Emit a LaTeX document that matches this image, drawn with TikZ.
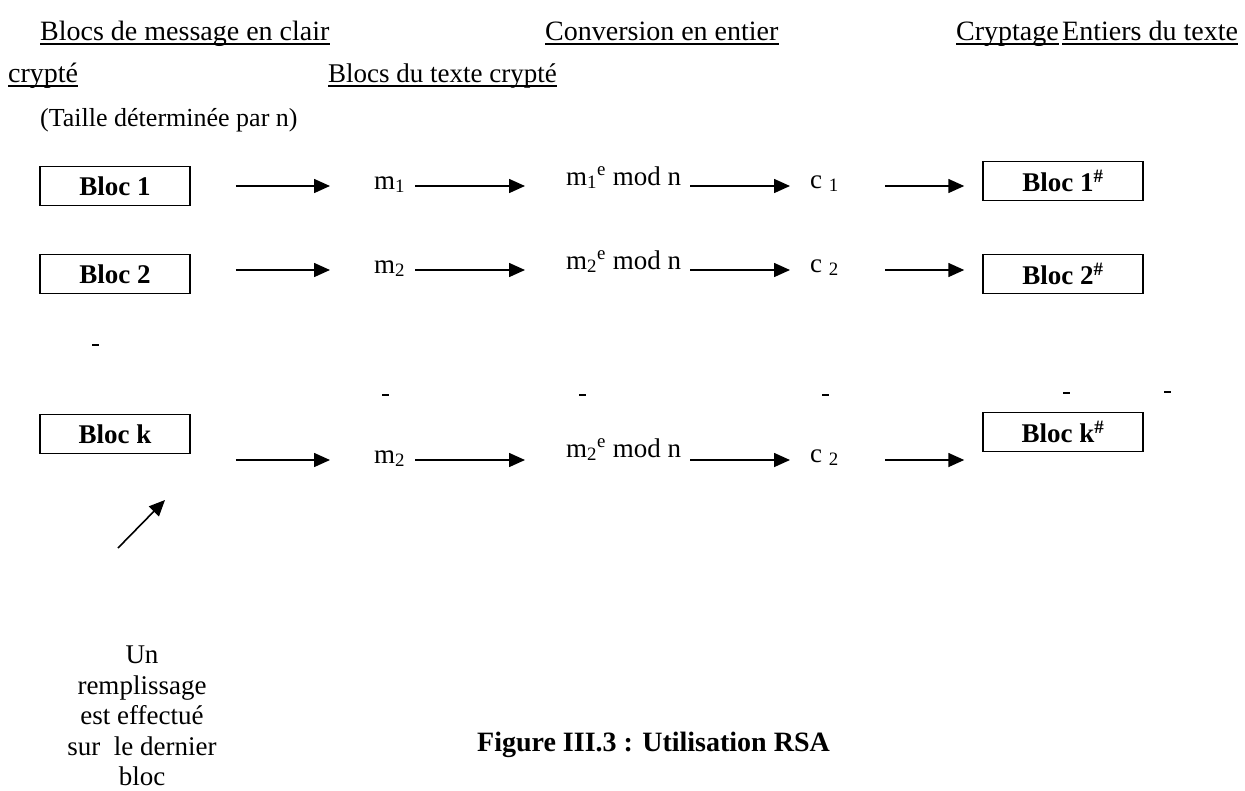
\documentclass[tikz,border=0pt]{standalone}
\usepackage{fontspec}
\setmainfont{Liberation Serif}
\usetikzlibrary{arrows.meta}

\tikzset{
  texte/.style={inner sep=0pt, anchor=base west, font=\fontsize{27}{31}\selectfont},
  entete/.style={texte, font=\fontsize{28}{32}\selectfont},
  bloc/.style={draw, line width=1.5pt, minimum width=150pt, minimum height=39pt,
    inner sep=0pt, font=\fontsize{27}{31}\selectfont\bfseries},
  fleche/.style={line width=1.6pt, -{Triangle[length=16pt,width=14pt]}},
  flecheA/.style={fleche, shorten <=45pt, shorten >=44pt},
  flecheB/.style={fleche, shorten <=41pt, shorten >=41pt},
  flecheC/.style={fleche, shorten <=124pt, shorten >=20pt},
  flecheD/.style={fleche, shorten <=75pt, shorten >=18pt},
  souligne/.style={line width=1.3pt},
  tiret/.style={line width=2.5pt},
}

\begin{document}
\begin{tikzpicture}[x=1pt,y=-1pt]
\useasboundingbox (0,0) rectangle (1245,790);

% titres
\node[entete] (t1) at (40,40) {Blocs de message en clair};
\node[entete] (t2) at (545,40) {Conversion en entier};
\node[entete] (t3) at (956,40) {Cryptage};
\node[entete] (t4) at (1062,40) {Entiers du texte};
\node[entete] (t5) at (8,82) {crypté};
\node[texte] (t6) at (328,82) {Blocs du texte crypté};
\foreach \t in {t1,t2,t3,t4,t5,t6}
  \draw[souligne] ([yshift=-4pt]\t.base west) -- ([yshift=-4pt]\t.base east);

\node[texte, font=\fontsize{26}{30}\selectfont] (taille) at (40,126) {(Taille déterminée par n)};

% ligne 1
\coordinate (y1) at (0,186);
\node[bloc] (b1) at (115,186) {Bloc 1};
\node[texte] (m1) at (374,189) {m\textsubscript{1}};
\node[texte] (e1) at (566,185) {m\textsubscript{1}\textsuperscript{e} mod n};
\node[texte] (c1) at (810,188) {c \textsubscript{1}};
\node[bloc, minimum width=160pt] (d1) at (1063,181) {Bloc 1\textsuperscript{\#}};
  \draw[flecheA] (b1.east |- y1) -- (m1.west |- y1);
  \draw[flecheB] (m1.west |- y1) -- (e1.west |- y1);
  \draw[flecheC] (e1.west |- y1) -- (c1.west |- y1);
  \draw[flecheD] (c1.west |- y1) -- (d1.west |- y1);

% ligne 2
\coordinate (y2) at (0,270);
\node[bloc] (b2) at (115,274) {Bloc 2};
\node[texte] (m2) at (374,273) {m\textsubscript{2}};
\node[texte] (e2) at (566,269) {m\textsubscript{2}\textsuperscript{e} mod n};
\node[texte] (c2) at (810,272) {c \textsubscript{2}};
\node[bloc, minimum width=160pt] (d2) at (1063,274) {Bloc 2\textsuperscript{\#}};
  \draw[flecheA] (b2.east |- y2) -- (m2.west |- y2);
  \draw[flecheB] (m2.west |- y2) -- (e2.west |- y2);
  \draw[flecheC] (e2.west |- y2) -- (c2.west |- y2);
  \draw[flecheD] (c2.west |- y2) -- (d2.west |- y2);

% tirets
\draw[tiret] (92,345) -- (99,345);
\draw[tiret] (382,395) -- (389,395);
\draw[tiret] (579,395) -- (586,395);
\draw[tiret] (822,395) -- (829,395);
\draw[tiret] (1063,393) -- (1070,393);
\draw[tiret] (1164,392) -- (1171,392);

% ligne k
\coordinate (yk) at (0,460);
\node[bloc] (bk) at (115,434) {Bloc k};
\node[texte] (mk) at (374,463) {m\textsubscript{2}};
\node[texte] (ek) at (566,457) {m\textsubscript{2}\textsuperscript{e} mod n};
\node[texte] (ck) at (810,462) {c \textsubscript{2}};
\node[bloc, minimum width=160pt] (dk) at (1063,432) {Bloc k\textsuperscript{\#}};
  \draw[flecheA] (bk.east |- yk) -- (mk.west |- yk);
  \draw[flecheB] (mk.west |- yk) -- (ek.west |- yk);
  \draw[flecheC] (ek.west |- yk) -- (ck.west |- yk);
  \draw[flecheD] (ck.west |- yk) -- (dk.west |- yk);

% remplissage
\node[inner sep=0pt, anchor=north, align=center, font=\fontsize{27}{30.5}\selectfont]
  (note) at (142,646) {Un\\remplissage\\est effectué\\sur~ le dernier\\bloc};
\coordinate (queue) at (118,548);
\coordinate (pointe) at (165,500);
  \draw[fleche] (queue) -- (pointe);

\node[texte, font=\fontsize{28}{32}\selectfont\bfseries] (titre) at (477,751)
  {Figure III.3 : Utilisation RSA};

\end{tikzpicture}
\end{document}
